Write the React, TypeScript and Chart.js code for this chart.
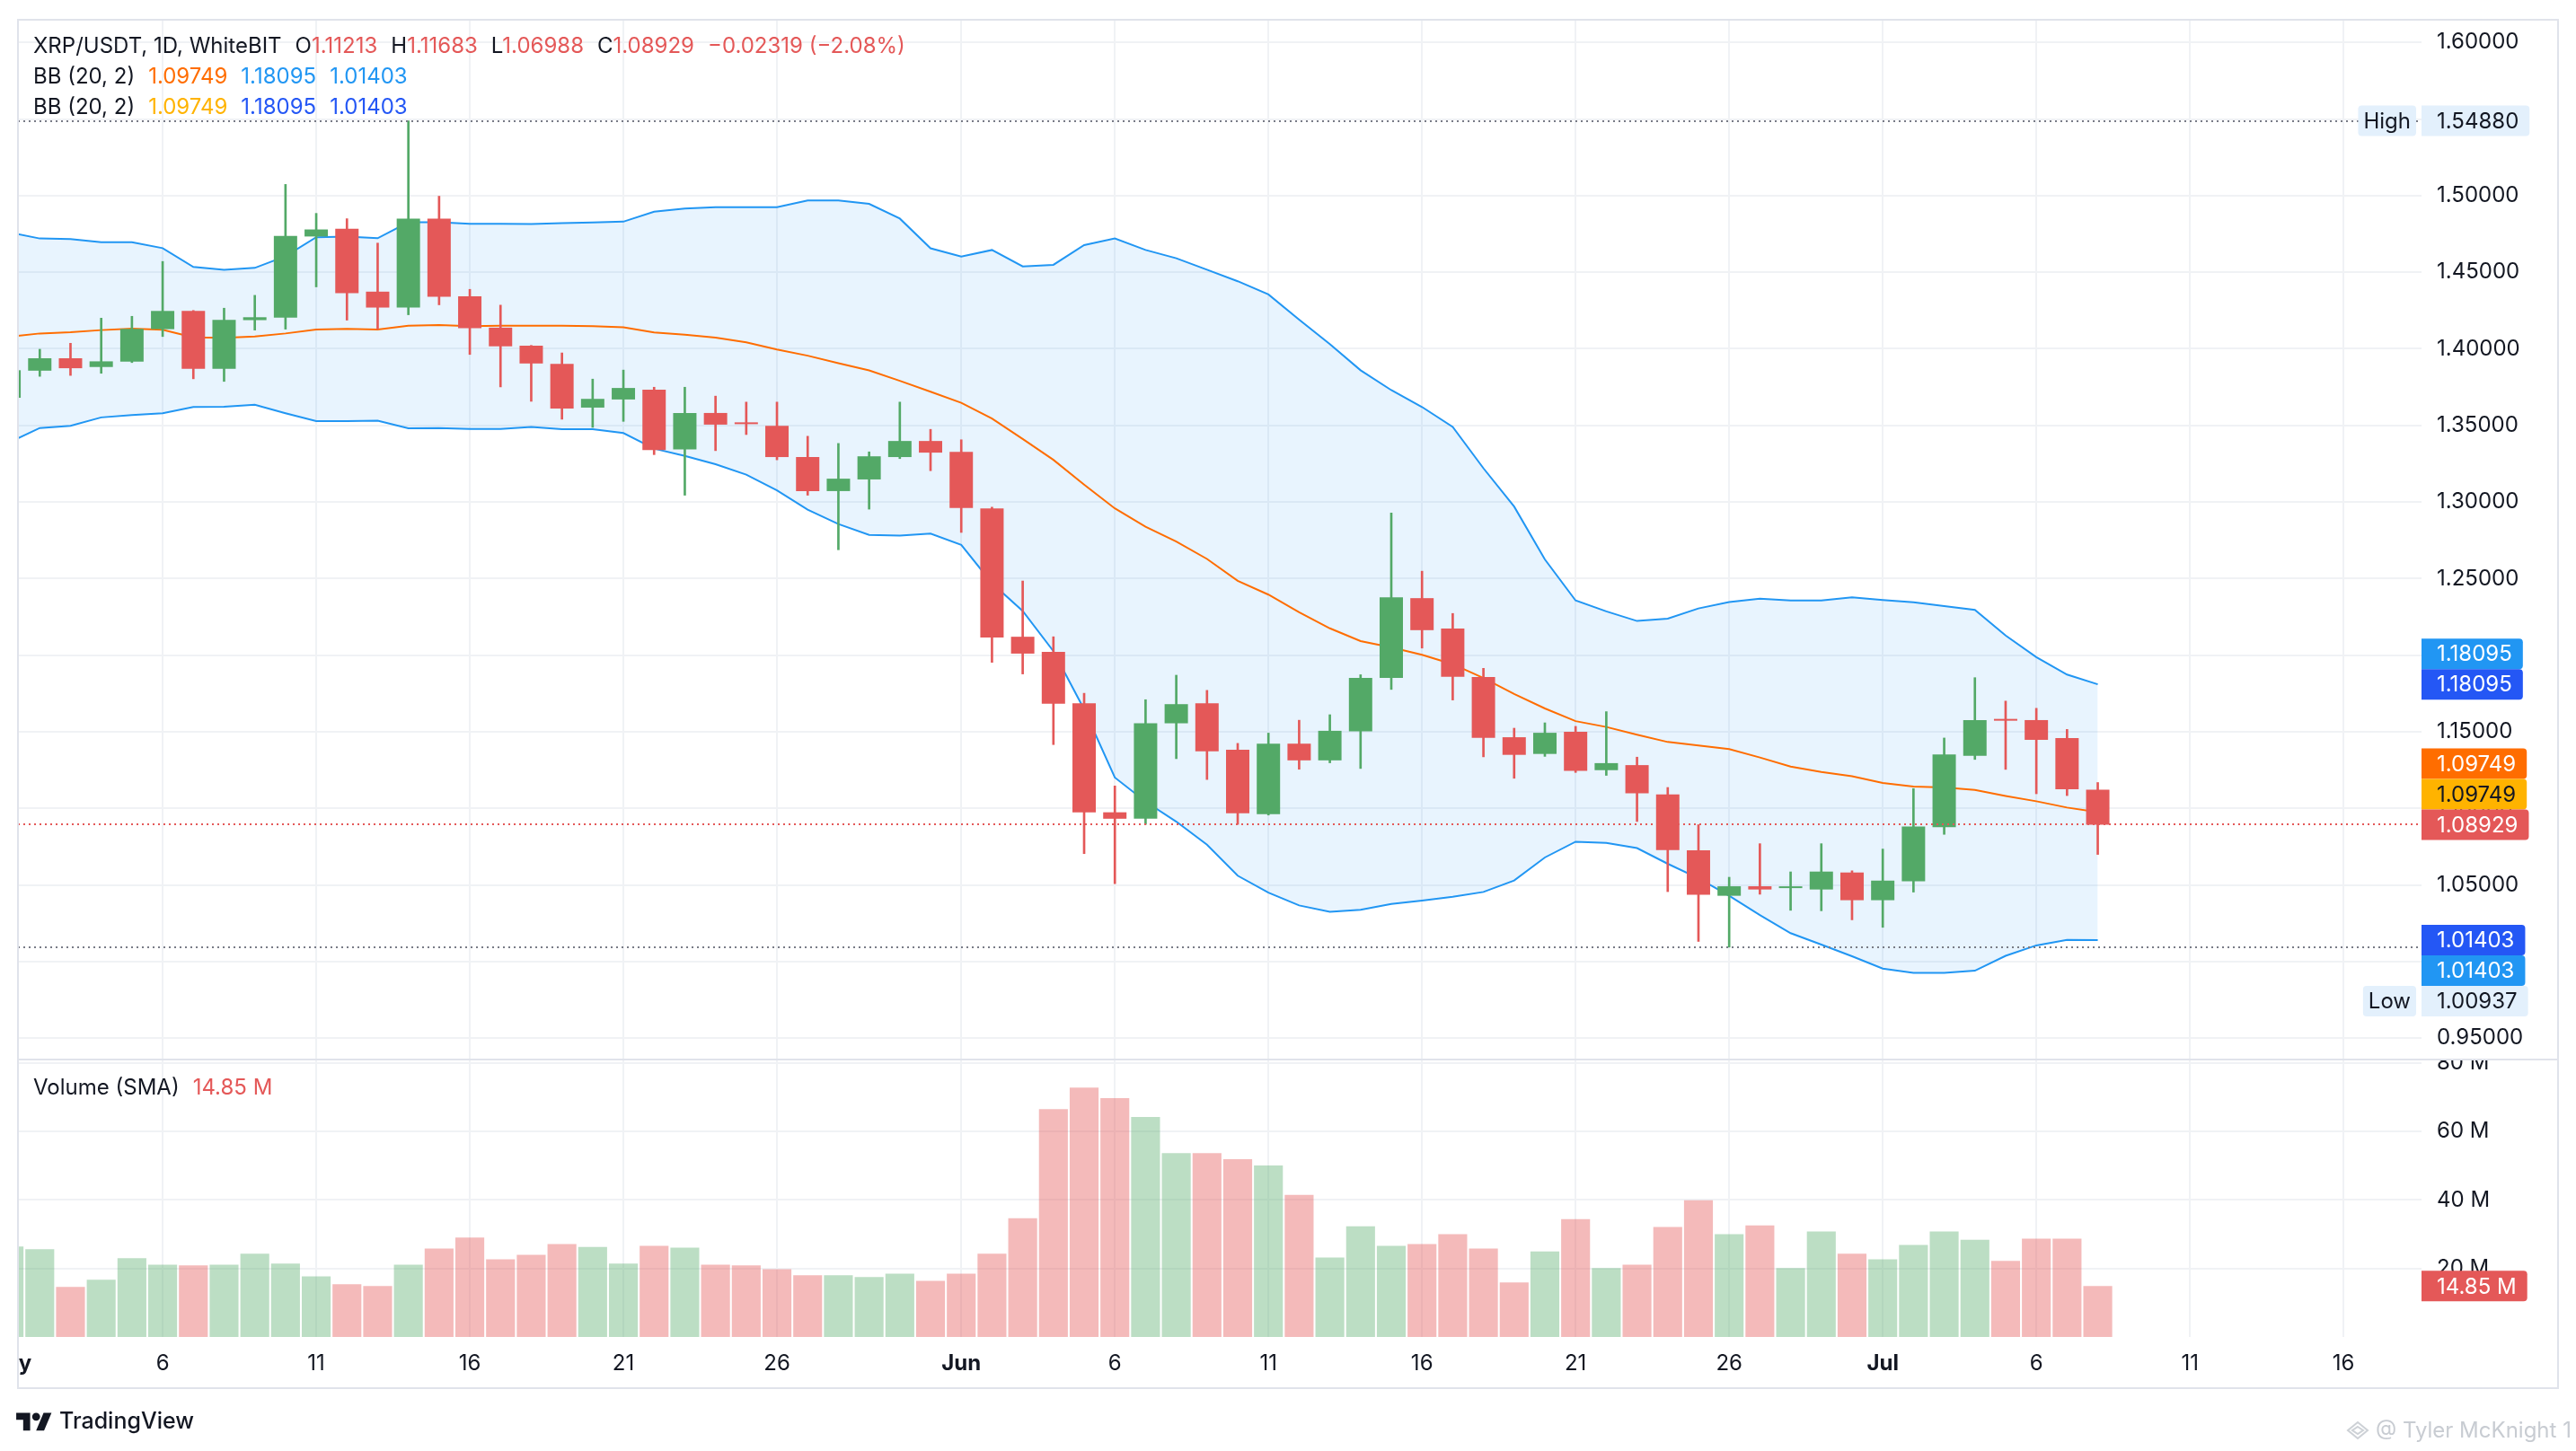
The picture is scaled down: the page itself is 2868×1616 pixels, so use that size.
import React, { useEffect, useRef } from "react";
import { Chart, registerables } from "chart.js";

Chart.register(...registerables);

const FONT = "Inter, 'Noto Sans', 'DejaVu Sans', sans-serif";
const TEXT = "#131722";
const UP = "#53a967";
const DOWN = "#e45858";
const VOL_UP = "rgba(83,169,103,0.39)";
const VOL_DOWN = "rgba(228,88,88,0.41)";
const BB_BLUE = "#2196f3";
const BB_ORANGE = "#ff6d00";
const BB2_BLUE = "#2457f5";
const BB2_AMBER = "#ffb300";
const GRID = "#f0f2f5";
const FRAME = "#e0e3eb";
const TAG_LIGHT = "#e3f0fc";

// Daily candles, May 1 .. Jul 8 (day index 0 = May 1)
const opens = [1.368, 1.3857, 1.3938, 1.3881, 1.3916, 1.4128, 1.4247, 1.3869, 1.4187, 1.4204, 1.4733, 1.4784, 1.4373, 1.4269, 1.4849, 1.4343, 1.4138, 1.402, 1.3902, 1.3616, 1.3669,
  1.3733, 1.3343, 1.3581, 1.3518, 1.3497, 1.3293, 1.3071, 1.3147, 1.3293, 1.3398,
  1.3327, 1.2958, 1.212, 1.2021, 1.1686, 1.0974, 1.0932, 1.1555, 1.1686, 1.1382,
  1.0962, 1.1422, 1.1313, 1.1502, 1.1851, 1.2372, 1.2173, 1.1857, 1.1464, 1.1355,
  1.15, 1.1249, 1.1282, 1.109, 1.0726, 1.0429, 1.0491, 1.0479, 1.047, 1.0581,
  1.04, 1.0524, 1.0877, 1.1343, 1.1578, 1.1576, 1.1459, 1.11213];
const highs = [1.388, 1.3997, 1.4036, 1.42, 1.4212, 1.457, 1.425, 1.4265, 1.4349, 1.5073, 1.4884, 1.4849, 1.469, 1.5488, 1.4996, 1.4388, 1.4285, 1.4022, 1.3973, 1.3802, 1.3861,
  1.3749, 1.3749, 1.3691, 1.3652, 1.3652, 1.3429, 1.3382, 1.3327, 1.3652, 1.3474,
  1.3406, 1.2966, 1.2484, 1.212, 1.1751, 1.1146, 1.1709, 1.1869, 1.177, 1.1424,
  1.1491, 1.1575, 1.1611, 1.1872, 1.2928, 1.2548, 1.2272, 1.1914, 1.1523, 1.1558,
  1.1535, 1.1631, 1.1334, 1.1136, 1.0893, 1.055, 1.0769, 1.0585, 1.0769, 1.0592,
  1.0734, 1.1129, 1.1459, 1.1853, 1.17, 1.1653, 1.1515, 1.11683];
const lows = [1.362, 1.382, 1.3826, 1.384, 1.391, 1.408, 1.3804, 1.3787, 1.4122, 1.4128, 1.4404, 1.4187, 1.4128, 1.4222, 1.4287, 1.3963, 1.3751, 1.3657, 1.354, 1.3487, 1.3526,
  1.3309, 1.3044, 1.3335, 1.344, 1.3275, 1.3044, 1.2688, 1.2953, 1.3283, 1.3204,
  1.2801, 1.1953, 1.1877, 1.1416, 1.0704, 1.0508, 1.0895, 1.1324, 1.1188, 1.0895,
  1.0956, 1.1255, 1.1297, 1.126, 1.1776, 1.2046, 1.1707, 1.1336, 1.1196, 1.1339,
  1.1234, 1.1215, 1.0914, 1.0456, 1.0131, 1.00937, 1.0439, 1.0334, 1.0331, 1.0272,
  1.0223, 1.0453, 1.083, 1.1319, 1.1254, 1.1095, 1.1083, 1.06988];
const closes = [1.386, 1.3938, 1.3873, 1.3918, 1.413, 1.4247, 1.3869, 1.4189, 1.4206, 1.4737, 1.4779, 1.4363, 1.4269, 1.4849, 1.434, 1.4134, 1.4016, 1.3904, 1.361, 1.3673, 1.3744,
  1.3338, 1.3581, 1.3505, 1.3508, 1.3293, 1.3071, 1.3152, 1.3298, 1.3398, 1.3322,
  1.2961, 1.2115, 1.201, 1.1683, 1.0974, 1.0932, 1.1555, 1.168, 1.1372, 1.0968,
  1.1422, 1.1313, 1.1506, 1.1851, 1.2378, 1.2163, 1.1859, 1.146, 1.1349, 1.1493,
  1.1244, 1.1295, 1.1098, 1.0728, 1.0435, 1.0491, 1.047, 1.0485, 1.0587, 1.04,
  1.0528, 1.0881, 1.1352, 1.1576, 1.1572, 1.1447, 1.11248, 1.08929];
// Volume in millions
const volumesM = [26.4, 25.6, 14.6, 16.7, 23.0, 21.1, 20.9, 21.1, 24.3, 21.4, 17.7, 15.4, 14.9, 21.1, 25.8, 29.0, 22.7, 24.0, 27.1, 26.3, 21.4,
  26.6, 26.1, 21.1, 20.9, 19.8, 18.0, 18.0, 17.5, 18.5, 16.4,
  18.5, 24.3, 34.7, 66.5, 72.8, 69.7, 64.2, 53.7, 53.7, 51.9,
  50.1, 41.5, 23.2, 32.3, 26.6, 27.1, 30.0, 25.8, 15.9, 25.0,
  34.4, 20.1, 21.1, 32.1, 39.9, 30.0, 32.6, 20.1, 30.8, 24.3,
  22.7, 26.9, 30.8, 28.4, 22.2, 28.7, 28.7, 14.85];
// Bollinger Bands (20, 2)
const bbUpper = [1.476, 1.472, 1.4716, 1.4696, 1.4696, 1.4657, 1.4534, 1.4516, 1.4528, 1.4604, 1.4728, 1.4733, 1.4722, 1.4826, 1.4826, 1.4816, 1.4816, 1.4814, 1.482, 1.4824, 1.483,
  1.4895, 1.4915, 1.4925, 1.4925, 1.4925, 1.4968, 1.4968, 1.4946, 1.485, 1.4656,
  1.4602, 1.4645, 1.4538, 1.4548, 1.4677, 1.472, 1.4645, 1.4591, 1.4516, 1.4441,
  1.4355, 1.419, 1.403, 1.386, 1.373, 1.362, 1.349, 1.322, 1.297, 1.2625,
  1.2357, 1.2286, 1.2223, 1.2238, 1.2305, 1.2347, 1.2368, 1.2357, 1.2357, 1.2378,
  1.236, 1.2345, 1.232, 1.2295, 1.2128, 1.1987, 1.1873, 1.18095];
const bbBasis = [1.4079, 1.41, 1.4108, 1.4122, 1.4132, 1.4124, 1.4075, 1.4071, 1.408, 1.41, 1.4126, 1.413, 1.4126, 1.415, 1.4155, 1.4147, 1.415, 1.415, 1.415, 1.4148, 1.414,
  1.4107, 1.4092, 1.4073, 1.4042, 1.3995, 1.3955, 1.3906, 1.3859, 1.3791, 1.372,
  1.3647, 1.3544, 1.3411, 1.3275, 1.3113, 1.2958, 1.2838, 1.2741, 1.2628, 1.2485,
  1.2395, 1.228, 1.2175, 1.2092, 1.205, 1.2002, 1.1941, 1.1851, 1.1746, 1.1652,
  1.1569, 1.1531, 1.1481, 1.1433, 1.141, 1.1387, 1.1332, 1.1272, 1.1237, 1.121,
  1.1166, 1.1142, 1.1136, 1.112, 1.1081, 1.1046, 1.1005, 1.09749];
const bbLower = [1.3389, 1.3483, 1.3497, 1.3552, 1.3567, 1.3579, 1.362, 1.3622, 1.3634, 1.3579, 1.3528, 1.3528, 1.353, 1.3481, 1.3483, 1.3477, 1.3477, 1.3489, 1.3475, 1.3475, 1.345,
  1.3348, 1.3301, 1.3246, 1.3178, 1.3076, 1.295, 1.2856, 1.2785, 1.278, 1.2793,
  1.272, 1.247, 1.2288, 1.2026, 1.1646, 1.1201, 1.1044, 1.0913, 1.0762, 1.056,
  1.0449, 1.0366, 1.0324, 1.0338, 1.0376, 1.0397, 1.0422, 1.0454, 1.0529, 1.0679,
  1.0782, 1.0774, 1.074, 1.0638, 1.0544, 1.0429, 1.0303, 1.0185, 1.011, 1.0034,
  0.9954, 0.9925, 0.9925, 0.994, 1.0037, 1.0105, 1.0141, 1.01403];

const xTickDays = [0, 5, 10, 15, 20, 25, 31, 36, 41, 46, 51, 56, 61, 66, 71, 76];
const xTickLabels = ["May", "6", "11", "16", "21", "26", "Jun", "6", "11", "16", "21", "26", "Jul", "6", "11", "16"];
const monthLabels = ["May", "Jun", "Jul"];
const priceTicks = [0.95, 1.0, 1.05, 1.1, 1.15, 1.2, 1.25, 1.3, 1.35, 1.4, 1.45, 1.5, 1.55, 1.6];
const volumeTicksM = [20, 40, 60, 80];
const sessionHigh = 1.5488;
const sessionLow = 1.00937;
const xView = [0.29, 78.54];
const priceView = [0.936, 1.6148];
const volumeViewM = [0, 81];

const last = opens.length - 1;
const fmt5 = (v: number) => v.toFixed(5).replace("-", "\u2212");
const change = closes[last] - closes[last - 1];
const changePct = (change / closes[last - 1]) * 100;

function drawValueTag(ctx: any, left: number, yc: number, text: string, bg: string, fg: string) {
  const h = 34;
  ctx.font = `24px ${FONT}`;
  const w = ctx.measureText(text).width + 29;
  ctx.fillStyle = bg;
  ctx.beginPath();
  ctx.roundRect(left, yc - h / 2, w, h, [0, 4, 4, 0]);
  ctx.fill();
  ctx.fillStyle = fg;
  ctx.textAlign = "left";
  ctx.textBaseline = "middle";
  ctx.fillText(text, left + 17, yc + 1);
}

function drawSideTag(ctx: any, right: number, yc: number, text: string, bg: string, fg: string) {
  const h = 34;
  ctx.font = `24px ${FONT}`;
  const w = ctx.measureText(text).width + 12;
  ctx.fillStyle = bg;
  ctx.beginPath();
  ctx.roundRect(right - w, yc - h / 2, w, h, 4);
  ctx.fill();
  ctx.fillStyle = fg;
  ctx.textAlign = "center";
  ctx.textBaseline = "middle";
  ctx.fillText(text, right - w / 2, yc + 1);
}

const tvPlugin = {
  id: "tvPlugin",
  afterDatasetsDraw(chart: any) {
    const { ctx, chartArea: ca } = chart;
    const y = chart.scales.y;
    ctx.save();
    ctx.beginPath();
    ctx.rect(ca.left, y.top, ca.right - ca.left, y.bottom - y.top);
    ctx.clip();
    ctx.lineWidth = 2;
    ctx.setLineDash([2, 4]);
    const hline = (v: number, color: string) => {
      const py = Math.round(y.getPixelForValue(v));
      ctx.strokeStyle = color;
      ctx.beginPath();
      ctx.moveTo(ca.left, py);
      ctx.lineTo(ca.right, py);
      ctx.stroke();
    };
    hline(sessionHigh, "#787b86");
    hline(sessionLow, "#787b86");
    hline(closes[last], closes[last] >= opens[last] ? UP : DOWN);
    ctx.restore();
  },
  afterDraw(chart: any) {
    const { ctx, chartArea: ca } = chart;
    const x = chart.scales.x;
    const y = chart.scales.y;
    const yv = chart.scales.yVol;

    // time axis labels
    ctx.save();
    ctx.beginPath();
    ctx.rect(ca.left, x.top, ca.right - ca.left, x.bottom - x.top);
    ctx.clip();
    ctx.fillStyle = TEXT;
    ctx.textAlign = "center";
    ctx.textBaseline = "middle";
    xTickDays.forEach((d, k) => {
      const label = xTickLabels[k];
      ctx.font = monthLabels.includes(label) ? `bold 24px ${FONT}` : `24px ${FONT}`;
      ctx.fillText(label, x.getPixelForValue(d), (x.top + x.bottom) / 2 + 1);
    });
    ctx.restore();

    // volume axis labels
    ctx.save();
    ctx.beginPath();
    ctx.rect(yv.left, yv.top + 1, yv.right - yv.left, yv.bottom - yv.top);
    ctx.clip();
    ctx.font = `24px ${FONT}`;
    ctx.fillStyle = TEXT;
    ctx.textAlign = "left";
    ctx.textBaseline = "middle";
    volumeTicksM.forEach((v) => ctx.fillText(`${v} M`, yv.left + 17, yv.getPixelForValue(v)));
    ctx.restore();

    // frame and pane separator
    ctx.save();
    ctx.strokeStyle = FRAME;
    ctx.lineWidth = 2;
    ctx.strokeRect(ca.left, ca.top, y.right - ca.left, x.bottom - ca.top);
    ctx.beginPath();
    ctx.moveTo(ca.left, yv.top);
    ctx.lineTo(y.right, yv.top);
    ctx.stroke();
    ctx.restore();

    // price tags
    const h = 34;
    const L = y.left;
    const py = (v: number) => y.getPixelForValue(v);
    ctx.save();
    const upperTxt = fmt5(bbUpper[last]);
    const basisTxt = fmt5(bbBasis[last]);
    const lowerTxt = fmt5(bbLower[last]);
    const closeTxt = fmt5(closes[last]);
    drawSideTag(ctx, L - 6, py(sessionHigh), "High", TAG_LIGHT, TEXT);
    drawValueTag(ctx, L, py(sessionHigh), fmt5(sessionHigh), TAG_LIGHT, TEXT);
    drawValueTag(ctx, L, py(bbUpper[last]) - h, upperTxt, BB_BLUE, "#ffffff");
    drawValueTag(ctx, L, py(bbUpper[last]), upperTxt, BB2_BLUE, "#ffffff");
    const cy = py(closes[last]);
    drawValueTag(ctx, L, cy - 2 * h, basisTxt, BB_ORANGE, "#ffffff");
    drawValueTag(ctx, L, cy - h, basisTxt, BB2_AMBER, TEXT);
    drawValueTag(ctx, L, cy, closeTxt, closes[last] >= opens[last] ? UP : DOWN, "#ffffff");
    const ly = py(bbLower[last]);
    drawValueTag(ctx, L, ly, lowerTxt, BB2_BLUE, "#ffffff");
    drawValueTag(ctx, L, ly + h, lowerTxt, BB_BLUE, "#ffffff");
    drawSideTag(ctx, L - 6, ly + 2 * h, "Low", TAG_LIGHT, TEXT);
    drawValueTag(ctx, L, ly + 2 * h, fmt5(sessionLow), TAG_LIGHT, TEXT);
    const lastVol = volumesM[last];
    drawValueTag(ctx, yv.left, yv.getPixelForValue(lastVol), `${lastVol.toFixed(2)} M`, closes[last] >= opens[last] ? UP : DOWN, "#ffffff");
    ctx.restore();
  },
};

export default function App() {
  const ref = useRef<HTMLCanvasElement>(null);

  useEffect(() => {
    document.body.style.margin = "0";
    document.body.style.overflow = "hidden";
    Chart.defaults.font.family = FONT;
    const canvas = ref.current;
    if (!canvas) return;
    const idx = opens.map((_, i) => i);
    const candleColor = idx.map((i) => (closes[i] >= opens[i] ? UP : DOWN));
    const volColor = idx.map((i) => (closes[i] >= opens[i] ? VOL_UP : VOL_DOWN));

    const chart = new Chart(canvas, {
      type: "bar",
      data: {
        datasets: [
          {
            type: "bar",
            label: "body",
            data: idx.map((i) => ({ x: i, y: [opens[i], closes[i]] })),
            backgroundColor: candleColor,
            borderWidth: 0,
            grouped: false,
            barPercentage: 0.76,
            categoryPercentage: 1,
            minBarLength: 2,
            yAxisID: "y",
            order: 0,
          },
          {
            type: "bar",
            label: "wick",
            data: idx.map((i) => ({ x: i, y: [lows[i], highs[i]] })),
            backgroundColor: candleColor,
            borderWidth: 0,
            grouped: false,
            barThickness: 2,
            yAxisID: "y",
            order: 1,
          },
          {
            type: "line",
            label: "upper",
            data: idx.map((i) => ({ x: i, y: bbUpper[i] })),
            borderColor: BB_BLUE,
            borderWidth: 2,
            pointRadius: 0,
            fill: false,
            tension: 0,
            yAxisID: "y",
            order: 3,
          },
          {
            type: "line",
            label: "basis",
            data: idx.map((i) => ({ x: i, y: bbBasis[i] })),
            borderColor: BB_ORANGE,
            borderWidth: 2,
            pointRadius: 0,
            fill: false,
            tension: 0,
            yAxisID: "y",
            order: 2,
          },
          {
            type: "line",
            label: "lower",
            data: idx.map((i) => ({ x: i, y: bbLower[i] })),
            borderColor: BB_BLUE,
            borderWidth: 2,
            pointRadius: 0,
            fill: { target: 2 },
            backgroundColor: "rgba(33,150,243,0.1)",
            tension: 0,
            yAxisID: "y",
            order: 4,
          },
          {
            type: "bar",
            label: "volume",
            data: idx.map((i) => ({ x: i, y: volumesM[i] })),
            backgroundColor: volColor,
            borderWidth: 0,
            grouped: false,
            barPercentage: 0.94,
            categoryPercentage: 1,
            yAxisID: "yVol",
            order: 5,
          },
        ],
      } as any,
      options: {
        animation: false,
        responsive: false,
        maintainAspectRatio: false,
        events: [],
        layout: { padding: { left: 20, top: 22, right: 20, bottom: 70 } },
        plugins: { legend: { display: false }, tooltip: { enabled: false } },
        scales: {
          x: {
            type: "linear",
            min: xView[0],
            max: xView[1],
            offset: false,
            grid: { color: GRID, lineWidth: 2, drawTicks: false, offset: false },
            border: { display: false },
            ticks: { display: false },
            afterBuildTicks: (s: any) => {
              s.ticks = xTickDays.filter((d) => d >= s.min && d <= s.max).map((value) => ({ value }));
            },
            afterFit: (s: any) => {
              s.height = 57;
              s.paddingLeft = 0;
              s.paddingRight = 0;
            },
          },
          y: {
            type: "linear",
            position: "right",
            stack: "pane",
            stackWeight: 1158,
            min: priceView[0],
            max: priceView[1],
            beginAtZero: false,
            offset: false,
            grid: { color: GRID, lineWidth: 2, drawTicks: false },
            border: { display: false },
            ticks: {
              color: TEXT,
              font: { family: FONT, size: 24 },
              padding: 17,
              callback: (v: any) => Number(v).toFixed(5),
            },
            afterBuildTicks: (s: any) => {
              s.ticks = priceTicks.map((value) => ({ value }));
            },
            afterFit: (s: any) => {
              s.width = 152;
              s.paddingTop = 0;
              s.paddingBottom = 0;
            },
          },
          yVol: {
            type: "linear",
            position: "right",
            stack: "pane",
            stackWeight: 309,
            min: volumeViewM[0],
            max: volumeViewM[1],
            offset: false,
            grid: { color: GRID, lineWidth: 2, drawTicks: false },
            border: { display: false },
            ticks: { display: false },
            afterBuildTicks: (s: any) => {
              s.ticks = volumeTicksM.map((value) => ({ value }));
            },
            afterFit: (s: any) => {
              s.width = 152;
              s.paddingTop = 0;
              s.paddingBottom = 0;
            },
          },
        },
      } as any,
      plugins: [tvPlugin],
    });
    return () => chart.destroy();
  }, []);

  const red = DOWN;
  const lineStyle = (top: number): React.CSSProperties => ({
    position: "absolute",
    left: 37,
    top,
    height: 30,
    lineHeight: "30px",
    fontSize: 24,
    color: TEXT,
    whiteSpace: "nowrap",
  });
  const gap = { marginLeft: 15 };

  return (
    <div style={{ position: "relative", width: 2868, height: 1616, overflow: "hidden", background: "#ffffff", fontFamily: FONT }}>
      <canvas ref={ref} width={2868} height={1616} style={{ position: "absolute", left: 0, top: 0, width: 2868, height: 1616 }} />
      <div style={lineStyle(36)}>
        <span>XRP/USDT, 1D, WhiteBIT</span>
        <span style={gap}>O<span style={{ color: red }}>{fmt5(opens[last])}</span></span>
        <span style={gap}>H<span style={{ color: red }}>{fmt5(highs[last])}</span></span>
        <span style={gap}>L<span style={{ color: red }}>{fmt5(lows[last])}</span></span>
        <span style={gap}>C<span style={{ color: red }}>{fmt5(closes[last])}</span></span>
        <span style={{ ...gap, color: red }}>
          {fmt5(change)} ({changePct.toFixed(2).replace("-", "\u2212")}%)
        </span>
      </div>
      <div style={lineStyle(70)}>
        <span>BB (20, 2)</span>
        <span style={{ ...gap, color: BB_ORANGE }}>{fmt5(bbBasis[last])}</span>
        <span style={{ ...gap, color: BB_BLUE }}>{fmt5(bbUpper[last])}</span>
        <span style={{ ...gap, color: BB_BLUE }}>{fmt5(bbLower[last])}</span>
      </div>
      <div style={lineStyle(104)}>
        <span>BB (20, 2)</span>
        <span style={{ ...gap, color: BB2_AMBER }}>{fmt5(bbBasis[last])}</span>
        <span style={{ ...gap, color: BB2_BLUE }}>{fmt5(bbUpper[last])}</span>
        <span style={{ ...gap, color: BB2_BLUE }}>{fmt5(bbLower[last])}</span>
      </div>
      <div style={lineStyle(1196)}>
        <span>Volume (SMA)</span>
        <span style={{ ...gap, color: red }}>{volumesM[last].toFixed(2)} M</span>
      </div>
      <svg width={40} height={31} viewBox="0 0 36 28" style={{ position: "absolute", left: 18, top: 1569 }}>
        <path d="M14 22H7V11H0V4h14v18zM28 22h-8l7.5-18h8L28 22z" fill={TEXT} />
        <circle cx={20} cy={8} r={4} fill={TEXT} />
      </svg>
      <div style={{ position: "absolute", left: 66, top: 1567, height: 30, lineHeight: "30px", fontSize: 25, fontWeight: 500, color: TEXT, whiteSpace: "nowrap" }}>
        TradingView
      </div>
      <svg width={26} height={22} viewBox="0 0 26 22" style={{ position: "absolute", left: 2612, top: 1582 }}>
        <path d="M13 2 L24 11 L13 20 L2 11 Z M13 7 L19 11 L13 15 L7 11 Z" fill="none" stroke="#cdd1d6" strokeWidth={2} />
      </svg>
      <div style={{ position: "absolute", left: 2645, top: 1578, height: 30, lineHeight: "30px", fontSize: 24, color: "#c8ccd2", whiteSpace: "nowrap" }}>
        @ Tyler McKnight 1
      </div>
    </div>
  );
}
